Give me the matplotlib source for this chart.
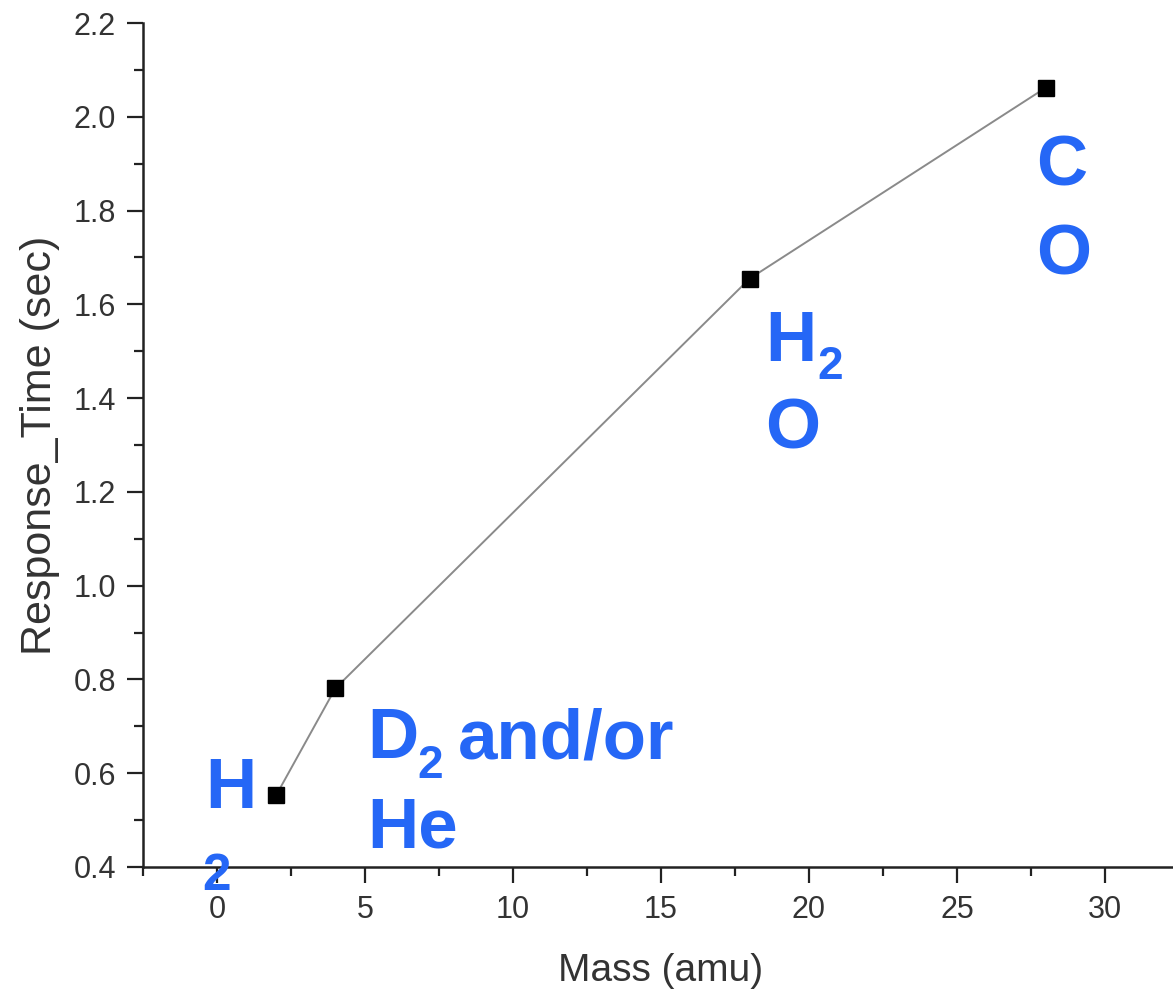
import matplotlib
matplotlib.use("Agg")
import matplotlib.pyplot as plt
from matplotlib.ticker import MultipleLocator, FormatStrFormatter

plt.rcParams['font.family'] = ['Liberation Sans', 'DejaVu Sans']

# datos
mass = [2, 4, 18, 28]
response_time = [0.553, 0.781, 1.655, 2.062]

# etiquetas de cada gas: (texto, x, y de la linea base, tamaño)
gas_labels = [
    ("H", -0.4, 0.5255, 51),
    ("2", -0.5, 0.350, 37),        # el "2" de H2 que cae debajo del eje
    ("D", 5.07, 0.632, 51),
    ("2", 6.76, 0.589, 33),
    ("and/or", 8.14, 0.632, 51),
    ("He", 5.07, 0.4426, 51),
    ("H", 18.51, 1.479, 51),
    ("2", 20.27, 1.440, 33),
    ("O", 18.51, 1.2915, 51),
    ("C", 27.67, 1.853, 51),
    ("O", 27.67, 1.664, 51),
]

blue = "#2567F6"
axis_color = "#222222"
text_color = "#333333"

fig = plt.figure(figsize=(11.73, 9.93), dpi=100)
ax = fig.add_axes([0.1219, 0.1269, 0.8831, 0.8499])

ax.plot(mass, response_time, color="#8a8a8a", linewidth=1.4, zorder=2)
ax.plot(mass, response_time, linestyle="none", marker="s", markersize=12,
        color="black", zorder=3)

for txt, x, y, size in gas_labels:
    ax.text(x, y, txt, fontsize=size, fontweight="bold", color=blue,
            ha="left", va="baseline", clip_on=False, zorder=4)

ax.set_xlim(-2.5, 32.5)
ax.set_ylim(0.4, 2.2)
ax.xaxis.set_major_locator(MultipleLocator(5))
ax.xaxis.set_minor_locator(MultipleLocator(2.5))
ax.yaxis.set_major_locator(MultipleLocator(0.2))
ax.yaxis.set_minor_locator(MultipleLocator(0.1))
ax.yaxis.set_major_formatter(FormatStrFormatter('%.1f'))

for side in ["top", "right"]:
    ax.spines[side].set_visible(False)
for side in ["left", "bottom"]:
    ax.spines[side].set_linewidth(1.8)
    ax.spines[side].set_color(axis_color)

ax.tick_params(which="major", direction="out", length=11.5, width=1.6,
               color=axis_color, labelsize=22, labelcolor=text_color)
ax.tick_params(which="minor", direction="out", length=6.5, width=1.6,
               color=axis_color)
ax.tick_params(axis="x", which="major", pad=9)
ax.tick_params(axis="y", which="major", pad=8)

ax.set_xlabel("Mass (amu)", fontsize=28, color=text_color, labelpad=20)
ax.set_ylabel("Response_Time (sec)", fontsize=31, color=text_color, labelpad=10)

fig.savefig("out.png", dpi=100)
